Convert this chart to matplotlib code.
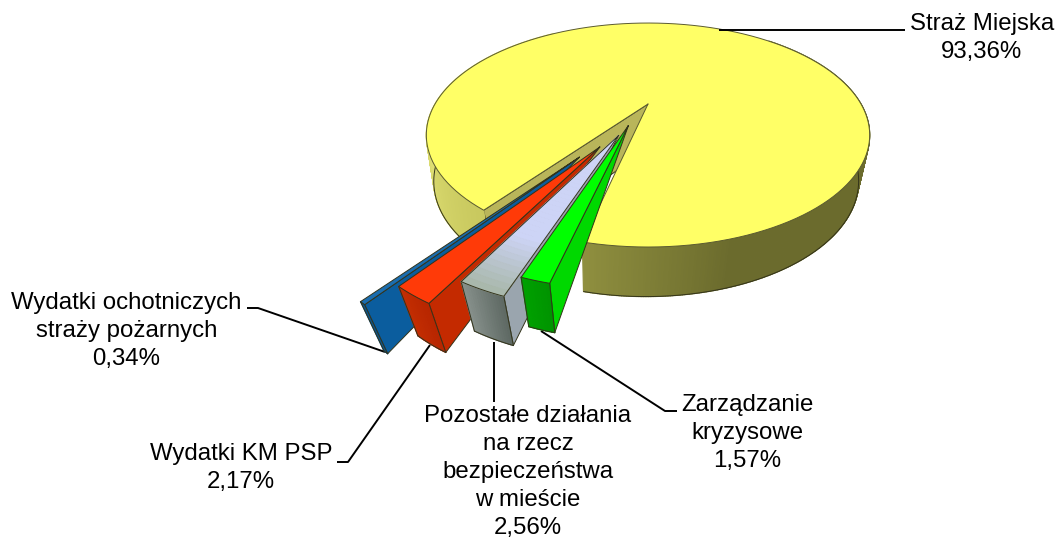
#!/usr/bin/env python3
import numpy as np
import matplotlib

matplotlib.use("Agg")
import matplotlib.pyplot as plt
from matplotlib.collections import PolyCollection

plt.rcParams["font.family"] = ["Liberation Sans", "DejaVu Sans"]

# slices, clockwise from the front of the pie
names = ["Zarządzanie\nkryzysowe", "Pozostałe działania\nna rzecz\nbezpieczeństwa\nw mieście",
         "Wydatki KM PSP", "Wydatki ochotniczych\nstraży pożarnych", "Straż Miejska"]
values = [1.57, 2.56, 2.17, 0.34, 93.36]
value_labels = ["1,57%", "2,56%", "2,17%", "0,34%", "93,36%"]

# camera
U0, V0 = 648.0, 104.0
SX, SN, K = 213.0, 103.4, 0.277
VP = np.array([605.0, 816.0])
DEPTH = 0.069
START = -13.0

# how far each small slice is pulled out, in disc units (x, towards viewer)
explode = [(-0.087, 0.197), (-0.127, 0.28), (-0.203, 0.373), (-0.282, 0.45), (0.0, 0.0)]

top_cols = [["#00ff00"], ["#cdd4f6", "#cdd4f6", "#cdd4f6", "#cdd4f6", "#a9b8ac"],
            ["#ff3a08"], ["#1a6db0"], ["#ffff66"]]
side_cols = ["#00d800", "#9aa5ae", "#c42a00", "#0b5d9e", "#b9b55a"]
front_cols = [["#00a000", "#009400"], ["#87918c", "#5f6a64"], ["#c42e02", "#b82600"],
              ["#0c5c9c", "#0a5590"]]
EDGE = "#33331a"


def project(x, n, low=False, xconv=1.0):
    x, n = np.asarray(x, float), np.asarray(n, float)
    w = 1 - K * n
    u = U0 + SX * x / w
    v = V0 + SN * n / w
    if low:
        t = DEPTH / (w + DEPTH)
        u = u + xconv * t * (VP[0] - u)
        v = v + t * (VP[1] - v)
    return np.column_stack([u, v])


def disc(ang, r=1.0, off=(0, 0)):
    a = np.radians(ang)
    return off[0] + r * np.sin(a), off[1] + r * np.cos(a)


def mix(c1, c2, t):
    a, b = matplotlib.colors.to_rgb(c1), matplotlib.colors.to_rgb(c2)
    return tuple(p + (q - p) * t for p, q in zip(a, b))


def ramp(cols, t):
    pos = t * (len(cols) - 1)
    i = min(int(pos), len(cols) - 2)
    return mix(cols[i], cols[i + 1], pos - i)


def outline(ax, pts, z, lw=0.7, col=EDGE):
    ax.plot(pts[:, 0], pts[:, 1], color=col, lw=lw, zorder=z, solid_capstyle="round")


def draw_top(ax, a0, a1, off, cols, z, edge=EDGE):
    aa = np.linspace(a0, a1, max(3, int(abs(a1 - a0))))
    x, n = disc(aa, 1.0, off)
    rim = project(x, n)
    apex = project([off[0]], [off[1]])
    if len(cols) == 1:
        pts = np.vstack([apex, rim])
        ax.fill(pts[:, 0], pts[:, 1], color=cols[0], lw=0, zorder=z)
    else:
        # radial strips so the colour can fade towards the rim
        rr = np.linspace(0, 1, 40)
        polys, fc = [], []
        for r0, r1 in zip(rr[:-1], rr[1:]):
            x0, n0 = disc(aa, r0, off)
            x1, n1 = disc(aa[::-1], r1, off)
            polys.append(np.vstack([project(x0, n0), project(x1, n1)]))
            fc.append(ramp(cols, r1))
        ax.add_collection(PolyCollection(polys, facecolors=fc, edgecolors=fc, linewidths=0.8, zorder=z))
    outline(ax, np.vstack([apex, rim, apex]), z + 0.1, col=edge)


def draw_rim(ax, a0, a1, off, cols, z, shade=None, xconv=1.0):
    aa = np.linspace(a0, a1, max(3, int(abs(a1 - a0)) * 2))
    polys, fc = [], []
    for i, (p, q) in enumerate(zip(aa[:-1], aa[1:])):
        xs, ns = disc(np.array([p, q]), 1.0, off)
        polys.append(np.vstack([project(xs, ns), project(xs, ns, True, xconv)[::-1]]))
        t = i / max(1, len(aa) - 2)
        fc.append(shade(p) if shade else ramp(cols, t))
    ax.add_collection(PolyCollection(polys, facecolors=fc, edgecolors=fc, linewidths=0.9, zorder=z))
    x, n = disc(aa, 1.0, off)
    outline(ax, project(x, n, True, xconv), z + 0.1)


def draw_radial(ax, ang, off, col, z, taper=True):
    # the small slices' walls run to a point at the tip
    x, n = disc(np.array([0.0, ang]), np.array([0.0, 1.0]), off)
    top, low = project(x, n), project(x, n, True)
    pts = np.vstack([top, low[1:]]) if taper else np.vstack([top, low[::-1]])
    ax.fill(pts[:, 0], pts[:, 1], color=col, lw=0, zorder=z)
    outline(ax, np.vstack([pts, pts[:1]]), z + 0.1)


fig = plt.figure(figsize=(10.56, 5.39), dpi=100)
ax = fig.add_axes([0, 0, 1, 1])
ax.set_xlim(0, 1056)
ax.set_ylim(539, 0)
ax.axis("off")

spans = []
a = START
for v in values:
    spans.append((a, a - v * 3.6))
    a -= v * 3.6

# big slice first, then the pulled out ones from left to right
a0, a1 = spans[4]
draw_radial(ax, a0, explode[4], side_cols[4], 1, taper=False)
# near wall, right of the cut
draw_rim(ax, START, START + 150, explode[4], None, 2, xconv=0.6,
         shade=lambda p: mix("#8f8f3f", "#6b6b2d", min(1, (p - START) / 30)))
# left wall
draw_rim(ax, a0, a0 - 110, explode[4], None, 2, xconv=0.6,
         shade=lambda p: mix("#c8c85e", "#dede72", min(1, (a0 - p) / 40)))
draw_top(ax, a0, a1, explode[4], top_cols[4], 3, edge="#5a5a30")

z = 4
for i in [3, 2, 1, 0]:
    s, e = spans[i]
    off = explode[i]
    draw_radial(ax, s, off, side_cols[i], z)
    draw_rim(ax, e, s, off, front_cols[i], z + 0.2)
    x, n = disc(np.array([e, s]), 1.0, off)
    for p, q in zip(project(x, n), project(x, n, True)):
        ax.plot([p[0], q[0]], [p[1], q[1]], color=EDGE, lw=0.7, zorder=z + 0.3)
    draw_top(ax, s, e, off, top_cols[i], z + 0.4)
    z += 1

# label layout: text anchor and leader line
label_xy = [(747, 433), (528, 472), (241, 468), (126.5, 331), (982, 38)]
leaders = [[(541, 331), (665, 411), (677, 411)],
           [(494, 342), (494, 402)],
           [(430, 345), (348, 462), (337, 462)],
           [(385, 352), (258, 308), (247, 308)],
           [(719, 30), (905, 30)]]

for name, val, (tx, ty), line in zip(names, value_labels, label_xy, leaders):
    ax.text(tx, ty, name + "\n" + val, ha="center", va="center", fontsize=17.3,
            linespacing=1.34, color="black", zorder=20)
    pts = np.array(line)
    ax.plot(pts[:, 0], pts[:, 1], color="black", lw=1.4, zorder=3.5, solid_capstyle="butt")

fig.savefig("out.png", dpi=100)
